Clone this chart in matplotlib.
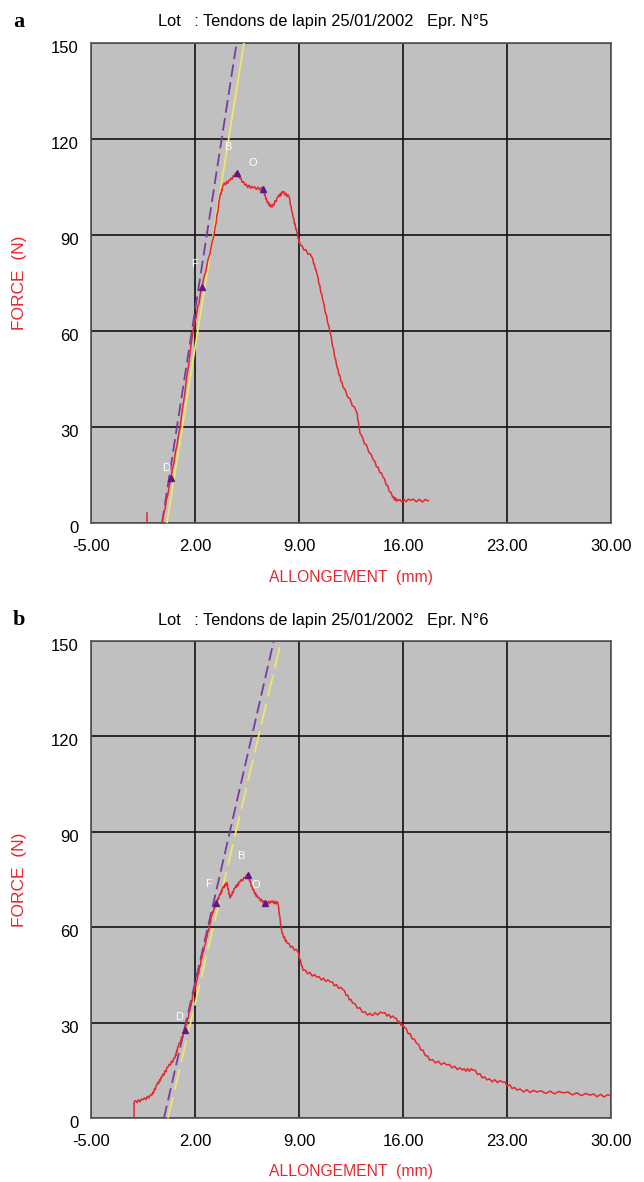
import numpy as np
import matplotlib
matplotlib.use("Agg")
from matplotlib import pyplot as plt
from matplotlib.transforms import ScaledTranslation

# ---- panel a (Epr. N5) ----
xa = [-0.22, 0.38, 1.0, 1.87, 2.47, 3.28, 3.68, 3.9, 4.35, 4.8, 5.36, 5.9, 6.58, 6.85,
      7.18, 7.6, 7.92, 8.33, 8.6, 8.87, 9.07, 9.87, 10.2, 10.6, 11.1, 11.55, 11.96,
      12.9, 13.1, 14.0, 14.65, 15.3, 15.65, 16.5, 17.7]
ya = [0, 14, 30, 60, 73.8, 90, 102, 105.6, 107, 109.4, 105.6, 104.7, 104.4, 100.3,
      98.7, 101.9, 103.4, 101.9, 95.6, 90.6, 86.9, 83.1, 78, 69.7, 59.4, 48.8, 42.5,
      34.4, 28.1, 19.7, 14.4, 8.1, 6.9, 7.1, 6.9]
tick_a_x = [-1.23, -1.23]
tick_a_y = [0, 3]
# slope lines: (x at 0 N, x at 150 N)
purple_a = [-0.22, 4.8]
yellow_a = [0.11, 5.3]
marks_a_x = [0.38, 2.47, 4.8, 6.58]
marks_a_y = [14, 73.8, 109.4, 104.4]
letters = ["D", "F", "B", "O"]
let_a_x = [0.05, 2.0, 4.22, 5.9]
let_a_y = [17.2, 81, 117.5, 112.5]

# ---- panel b (Epr. N6) ----
xb = [-2.1, -2.1, -1.5, -0.9, -0.56, -0.22, 0.18, 0.65, 0.86, 1.33, 1.66, 1.87, 2.14,
      2.47, 2.8, 3.14, 3.41, 3.68, 3.88, 4.15, 4.35, 4.69, 5.02, 5.56, 5.9, 6.24, 6.71,
      7.18, 7.58, 7.85, 8.19, 8.93, 9.27, 10.2, 11.1, 11.96, 12.6, 13.6, 14.65, 15.45,
      16.07, 16.9, 17.8, 18.95, 20.0, 20.7, 21.65, 22.7, 23.67, 25.0, 26.8, 28.6, 30.0]
yb = [0, 5.0, 5.7, 7.2, 10.4, 12.9, 16, 18.9, 22.3, 27.7, 34, 38.7, 43.4,
      50.6, 56.9, 63.8, 67.6, 70.1, 72.3, 73.9, 69.2, 72.3, 74.2, 76.4, 71.7, 69.2, 67.6,
      67.9, 67.6, 58.2, 55, 52.2, 46.5, 44.3, 42.8, 40.3, 36.2, 32.4, 33, 31.4,
      28.6, 23.6, 18.2, 16.7, 15.1, 15.1, 12, 11.3, 8.8, 8.2, 7.9, 7.2, 6.9]
purple_b = [-0.09, 7.3]
yellow_b = [0.18, 7.8]
marks_b_x = [1.33, 3.41, 5.56, 6.71]
marks_b_y = [27.7, 67.6, 76.4, 67.6]
let_b_x = [0.92, 2.94, 5.1, 6.1]
let_b_y = [31.8, 73.6, 82.4, 73.3]

xticks = [-5, 2, 9, 16, 23, 30]
yticks = [0, 30, 60, 90, 120, 150]

RED = "#e8262e"
FONT = ["Liberation Sans Narrow", "Liberation Sans", "DejaVu Sans"]
plt.rcParams["font.family"] = FONT


def jitter_line(x, y):
    # densify so the red trace looks like a measured signal (small fixed wiggle)
    xs, ys = [], []
    for i in range(len(x) - 1):
        n = 6
        for k in range(n):
            t = k / n
            xs.append(x[i] + t * (x[i + 1] - x[i]))
            ys.append(y[i] + t * (y[i + 1] - y[i]) + (0.4 if k % 2 else -0.4) * (k > 0))
    xs.append(x[-1])
    ys.append(y[-1])
    return xs, ys


def panel(ax, x, y, purple, yellow, mx, my, lx, ly, title, letter, ydash):
    ax.set_facecolor("#c0c0c0")
    ax.set_xlim(-5, 30)
    ax.set_ylim(0, 150)
    ax.set_xticks(xticks)
    ax.set_xticklabels(["%.2f" % v for v in xticks], fontsize=12)
    ax.set_yticks(yticks)
    ax.set_yticklabels([str(v) for v in yticks], fontsize=12)
    ax.tick_params(axis="y", length=0, pad=9)
    ax.tick_params(axis="x", length=0, pad=11.5)
    off = ScaledTranslation(0, -0.04, ax.figure.dpi_scale_trans)
    for lab in ax.get_yticklabels():
        lab.set_transform(lab.get_transform() + off)
    ax.grid(True, color="#111111", linewidth=1.2)
    ax.set_axisbelow(True)
    for s in ax.spines.values():
        s.set_color("#555555")
        s.set_linewidth(1.2)

    ax.plot(yellow, [0, 150], color="#f2e46a", linewidth=1.3,
            dashes=ydash, zorder=3)
    ax.plot(purple, [0, 150], color="#7a3c9e", linewidth=1.3,
            dashes=(7, 3), zorder=3)
    rx, ry = jitter_line(x, y)
    ax.plot(rx, ry, color=RED, linewidth=1.1, zorder=4)
    ax.plot(mx, my, linestyle="none", marker="^", markersize=5,
            color="#5b1a86", zorder=5)
    for t, tx, ty in zip(letters, lx, ly):
        ax.text(tx, ty, t, color="white", fontsize=8, ha="center", va="center", zorder=6)

    ax.set_xlabel("ALLONGEMENT  (mm)", color=RED, fontsize=11.3)
    ax.xaxis.set_label_coords(0.5, -0.097)
    ax.set_ylabel("FORCE  (N)", color=RED, fontsize=12.5)
    ax.yaxis.set_label_coords(-0.123, 0.5)
    ax.text(0.446, 1.044, title, transform=ax.transAxes, fontsize=11.8,
            ha="center", va="center")
    ax.text(-0.15, 1.044, letter, transform=ax.transAxes, fontsize=16,
            fontweight="bold", family="Liberation Serif", ha="left", va="center")


fig = plt.figure(figsize=(6.44, 11.82), dpi=100)
ax1 = fig.add_axes([91 / 644, 1 - 523 / 1182, 520 / 644, 480 / 1182])
ax2 = fig.add_axes([91 / 644, 1 - 1118 / 1182, 520 / 644, 477 / 1182])

panel(ax1, xa, ya, purple_a, yellow_a, marks_a_x, marks_a_y, let_a_x, let_a_y,
      "Lot   : Tendons de lapin 25/01/2002   Epr. N°5", "a", (None, None))
ax1.plot(tick_a_x, tick_a_y, color=RED, linewidth=1.1, zorder=4)
panel(ax2, xb, yb, purple_b, yellow_b, marks_b_x, marks_b_y, let_b_x, let_b_y,
      "Lot   : Tendons de lapin 25/01/2002   Epr. N°6", "b", (12, 4))

fig.savefig("out.png", dpi=100)
